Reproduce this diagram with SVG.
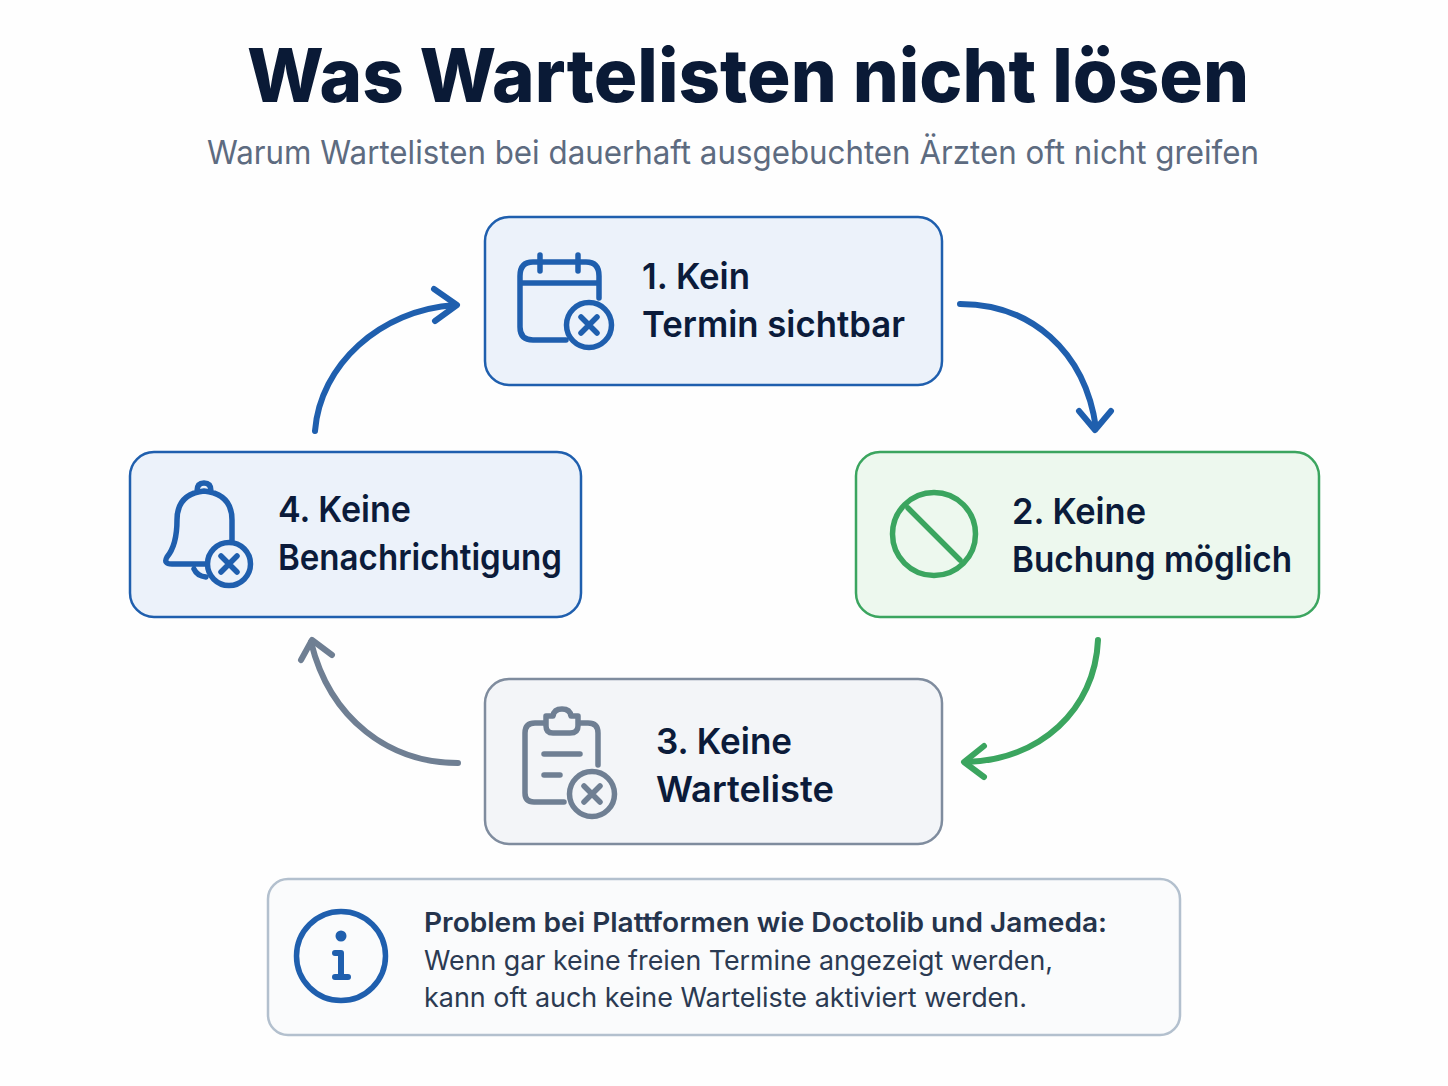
<svg xmlns="http://www.w3.org/2000/svg" width="1448" height="1086" viewBox="0 0 1448 1086">
<defs><style>
text{font-family:"Inter","Noto Sans","Liberation Sans",sans-serif;}
.t{font-size:36px;font-weight:600;fill:#0b1b3a;}
.ic{fill:none;stroke-width:5.5;stroke-linecap:round;stroke-linejoin:round;}
.b{stroke:#1f5fae;}
.g{stroke:#6f7f93;}
.gr{stroke:#3ba55f;}
.conn{fill:none;stroke-width:6;stroke-linecap:round;stroke-linejoin:round;}
.n{font-size:27px;fill:#2b3a52;}
</style></defs>
<rect width="1448" height="1086" fill="#fefefe"/>
<text id="title" x="247" y="102" textLength="1002" lengthAdjust="spacingAndGlyphs" font-size="74" font-weight="800" fill="#0a1a36">Was Wartelisten nicht lösen</text>
<text id="subtitle" x="207" y="164" textLength="1052" lengthAdjust="spacingAndGlyphs" font-size="33" fill="#5d6b80">Warum Wartelisten bei dauerhaft ausgebuchten Ärzten oft nicht greifen</text>
<g id="connectors" class="conn">
<path class="b" d="M960 304C1030 304 1085 350 1096 428"/><path class="b" d="M1079 411L1095 430L1111 411"/>
<path class="gr" d="M1098 640C1095 710 1040 760 966 762"/><path class="gr" d="M984 746L964 762L984 777"/>
<path class="g" d="M458 763C390 763 330 720 311 642"/><path class="g" d="M301 660L312 640L332 655"/>
<path class="b" d="M315 431C320 365 380 310 455 305"/><path class="b" d="M434 289L457 305L435 321"/>
</g>
<g id="node1">
<rect x="485" y="217" width="457" height="168" rx="24" fill="#ecf2fa" stroke="#1f5fae" stroke-width="2.5"/>
<path class="ic b" d="M566 340H533Q520 340 520 327V276Q520 262 533 262H586Q599 262 599 276V298M520 283H599M540 255V271M578 255V271"/>
<circle class="ic b" cx="589" cy="325" r="22.5"/><path class="ic b" d="M581 317L597 333M597 317L581 333"/>
<text class="t" x="642" y="289" textLength="108" lengthAdjust="spacingAndGlyphs">1. Kein</text><text class="t" x="642" y="337" textLength="263" lengthAdjust="spacingAndGlyphs">Termin sichtbar</text>
</g>
<g id="node2">
<rect x="856" y="452" width="463" height="165" rx="24" fill="#edf8ee" stroke="#3ba55f" stroke-width="2.5"/>
<circle class="ic gr" cx="934" cy="534" r="41.5"/><path class="ic gr" d="M908 508L960 560"/>
<text class="t" x="1012" y="524" textLength="134" lengthAdjust="spacingAndGlyphs">2. Keine</text><text class="t" x="1012" y="572" textLength="280" lengthAdjust="spacingAndGlyphs">Buchung möglich</text>
</g>
<g id="node3">
<rect x="485" y="679" width="457" height="165" rx="24" fill="#f3f5f8" stroke="#7f8c9e" stroke-width="2.5"/>
<path class="ic g" d="M564 802H534Q525 802 525 793V733Q525 723 535 723H546M578 723H588Q598 723 598 733V765M546 716H553Q554 709 562 709Q570 709 571 716H578V726Q578 733 570 733H553Q546 733 546 726ZM544 754H580M544 775H560"/>
<circle class="ic g" cx="592" cy="794" r="22.5"/><path class="ic g" d="M584 786L600 802M600 786L584 802"/>
<text class="t" x="656" y="754" textLength="136" lengthAdjust="spacingAndGlyphs">3. Keine</text><text class="t" x="656" y="802" textLength="178" lengthAdjust="spacingAndGlyphs">Warteliste</text>
</g>
<g id="node4">
<rect x="130" y="452" width="451" height="165" rx="24" fill="#ecf2fa" stroke="#1f5fae" stroke-width="2.5"/>
<path class="ic b" d="M206 564H172Q163 564 167 557Q177 545 177 520Q177 494 204 491Q232 494 232 520V540M197 491Q197 483 204 483Q211 483 211 491M194 569Q197 576 206 577"/>
<circle class="ic b" cx="229" cy="564" r="21.5"/><path class="ic b" d="M221 556L237 572M237 556L221 572"/>
<text class="t" x="278" y="522" textLength="133" lengthAdjust="spacingAndGlyphs">4. Keine</text><text class="t" x="278" y="570" textLength="284" lengthAdjust="spacingAndGlyphs">Benachrichtigung</text>
</g>
<g id="note">
<rect x="268" y="879" width="912" height="156" rx="20" fill="#fafbfc" stroke="#b3c0ce" stroke-width="2.5"/>
<circle cx="341" cy="956" r="44.5" fill="none" stroke="#1f5fae" stroke-width="5.5"/>
<circle cx="341" cy="936" r="5.5" fill="#1f5fae"/>
<path class="ic b" style="stroke-width:6" d="M335 953H341V977M335 977H348"/>
<text x="424" y="932" font-size="27" font-weight="600" fill="#25344c" textLength="683" lengthAdjust="spacingAndGlyphs">Problem bei Plattformen wie Doctolib und Jameda:</text>
<text class="n" x="424" y="970" textLength="629" lengthAdjust="spacingAndGlyphs">Wenn gar keine freien Termine angezeigt werden,</text>
<text class="n" x="424" y="1007" textLength="603" lengthAdjust="spacingAndGlyphs">kann oft auch keine Warteliste aktiviert werden.</text>
</g>
</svg>
